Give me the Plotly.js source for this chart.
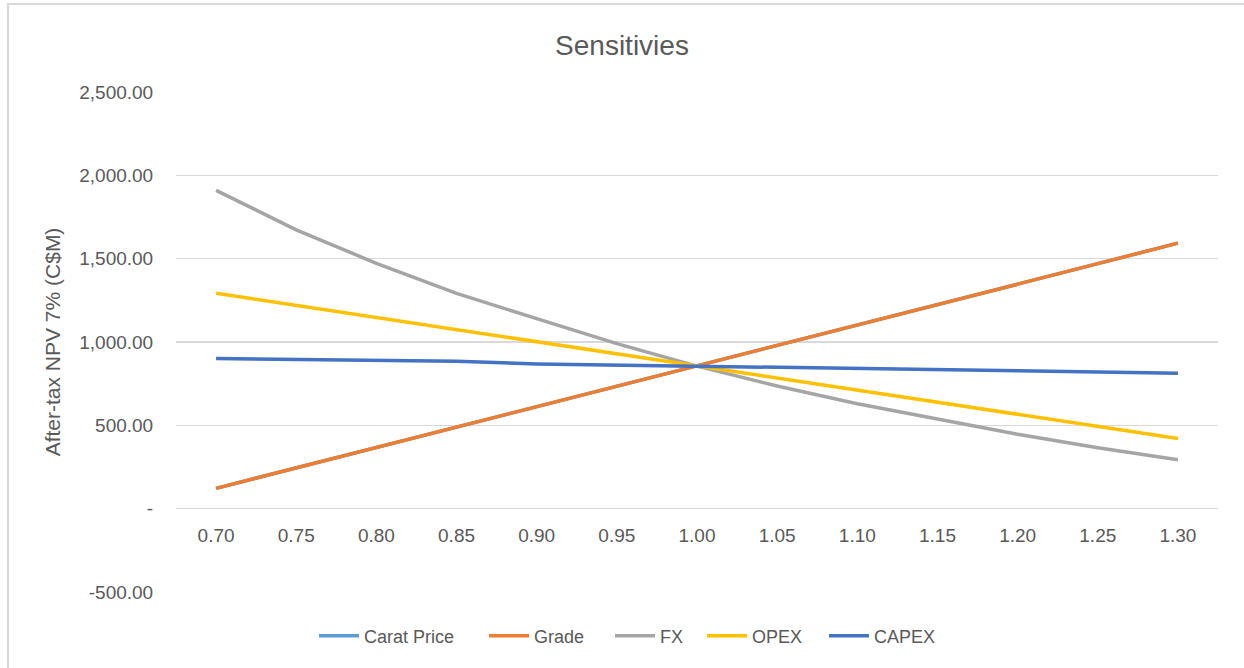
<!DOCTYPE html>
<html>
<head>
<meta charset="utf-8">
<script src="https://cdn.plot.ly/plotly-3.0.1.min.js"></script>
<style>
  html, body { margin: 0; padding: 0; background: #fff; overflow: hidden; }
  #chart { position: absolute; left: 0; top: 0; width: 1244px; height: 668px; }
  #frame { position: absolute; left: 7px; top: 3px; width: 1400px; height: 800px;
           border: 2px solid #d9d9d9; pointer-events: none; }
</style>
</head>
<body>
<div id="chart"></div>
<div id="frame"></div>
<script>
// ---- data ----
const categories = ["0.70","0.75","0.80","0.85","0.90","0.95","1.00","1.05","1.10","1.15","1.20","1.25","1.30"];
const caratPrice = [122, 244, 366, 488, 611, 733, 855, 978, 1101, 1224, 1347, 1470, 1593];
const grade      = [122, 244, 366, 488, 611, 733, 855, 978, 1101, 1224, 1347, 1470, 1593];
const fx         = [1910, 1673, 1472, 1292, 1140, 990, 855, 736, 630, 536, 446, 365, 294];
const opex       = [1292, 1219, 1146, 1073, 1000, 928, 855, 783, 710, 638, 565, 493, 421];
const capex      = [901, 896, 890, 884, 868, 862, 857, 850, 843, 836, 828, 820, 813];
const yTickVals  = [-500, 0, 500, 1000, 1500, 2000, 2500];
const yTickText  = ["-500.00", "-", "500.00", "1,000.00", "1,500.00", "2,000.00", "2,500.00"];

const seriesNames  = ["Carat Price", "Grade", "FX", "OPEX", "CAPEX"];
const seriesValues = [caratPrice, grade, fx, opex, capex];
const seriesColors = ["#5B9BD5", "#ED7D31", "#A5A5A5", "#FFC000", "#4472C4"];

const legendIds = ["legend", "legend2", "legend3", "legend4", "legend5"];
// pixel x where each legend entry's line sample starts
const legendStartPx = [318, 488, 614, 706, 828];

const traces = seriesNames.map((name, i) => ({
  type: "scatter",
  mode: "lines",
  name: name,
  x: categories,
  y: seriesValues[i],
  legend: legendIds[i],
  line: { color: seriesColors[i], width: 3.5 },
  hoverinfo: "x+y+name"
}));

const textColor = "#595959";
const fontFam = "Liberation Sans, Arial, sans-serif";
const plotL = 176, plotW = 1042, plotB = 592, plotH = 500;

const layout = {
  width: 1244,
  height: 668,
  paper_bgcolor: "#ffffff",
  plot_bgcolor: "#ffffff",
  margin: { l: plotL, r: 1244 - plotL - plotW, t: 92, b: 668 - plotB },
  font: { family: fontFam, color: textColor, size: 18 },
  title: {
    text: "Sensitivies",
    font: { family: fontFam, size: 28, color: textColor },
    x: 0.5, xanchor: "center",
    y: 1 - 45 / 668, yanchor: "middle"
  },
  xaxis: {
    type: "category",
    range: [-0.5, 12.5],
    anchor: "free",
    position: 500 / 3000,
    showgrid: false,
    zeroline: false,
    showline: false,
    ticks: "outside",
    ticklen: 10,
    tickcolor: "rgba(0,0,0,0)",
    tickfont: { family: fontFam, size: 19, color: textColor },
    fixedrange: true
  },
  yaxis: {
    range: [-500, 2500],
    tickvals: yTickVals,
    ticktext: yTickText,
    showgrid: true,
    gridcolor: "#d9d9d9",
    gridwidth: 1.3,
    zeroline: false,
    showline: false,
    ticks: "outside",
    ticklen: 18,
    tickcolor: "rgba(0,0,0,0)",
    tickfont: { family: fontFam, size: 19, color: textColor },
    title: {
      text: "After-tax NPV 7% (C$M)",
      font: { family: fontFam, size: 21, color: textColor },
      standoff: 12
    },
    automargin: false,
    fixedrange: true
  },
  showlegend: true
};

legendIds.forEach((id, i) => {
  layout[id] = {
    orientation: "h",
    x: (legendStartPx[i] - 4 - plotL) / plotW, xanchor: "left",
    y: -(636 - plotB) / plotH, yanchor: "middle",
    font: { family: fontFam, size: 18, color: textColor },
    itemwidth: 40,
    bgcolor: "rgba(0,0,0,0)"
  };
});

Plotly.newPlot("chart", traces, layout, { displayModeBar: false, staticPlot: true });
</script>
</body>
</html>
